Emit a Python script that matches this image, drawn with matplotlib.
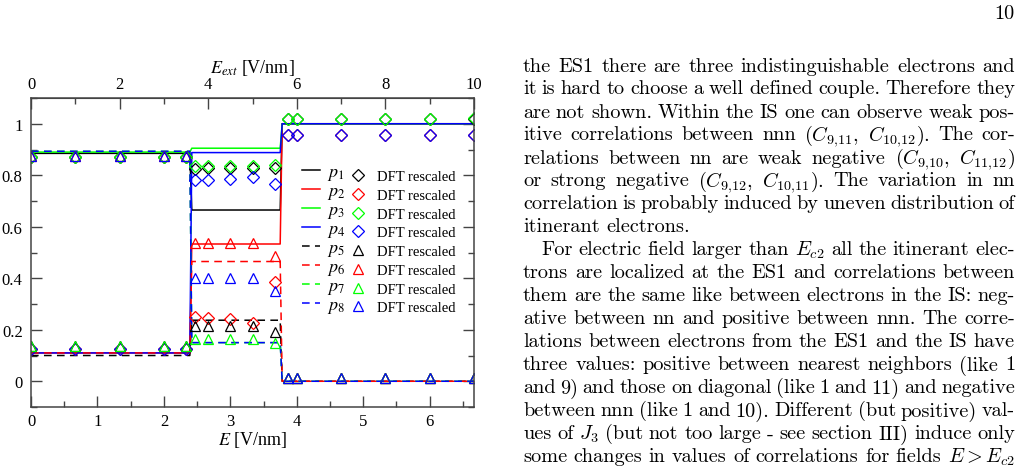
import matplotlib
matplotlib.use('Agg')
import matplotlib.pyplot as plt
from matplotlib.lines import Line2D
from matplotlib.ticker import MultipleLocator, FuncFormatter

W, H = 1023, 477

# ---- model curves (x in E [V/nm]) ----
E_line = [0.0, 2.39, 2.42, 3.75, 3.78, 6.667]
p1 = [0.885, 0.885, 0.665, 0.665, 1.000, 1.000]
p2 = [0.110, 0.110, 0.533, 0.533, 1.000, 1.000]
p3 = [0.890, 0.890, 0.905, 0.905, 1.000, 1.000]
p4 = [0.110, 0.110, 0.888, 0.888, 1.000, 1.000]
p5 = [0.100, 0.100, 0.237, 0.237, 0.000, 0.000]
p6 = [0.110, 0.110, 0.465, 0.465, 0.000, 0.000]
p7 = [0.893, 0.893, 0.150, 0.150, 0.000, 0.000]
p8 = [0.893, 0.893, 0.150, 0.150, 0.000, 0.000]

# ---- DFT rescaled points (x in E_ext [V/nm]) ----
Eext_dft = [0, 1, 2, 3, 3.5, 3.7, 4, 4.5, 5, 5.5, 5.8, 6, 7, 8, 9, 10]
dft1 = [0.870, 0.870, 0.870, 0.870, 0.870, 0.825, 0.830, 0.830, 0.830, 0.830, 1.017, 1.017, 1.017, 1.017, 1.017, 1.020]
dft2 = [0.125, 0.125, 0.125, 0.125, 0.125, 0.250, 0.245, 0.240, 0.228, 0.387, 0.957, 0.957, 0.957, 0.957, 0.957, 0.957]
dft3 = [0.872, 0.872, 0.872, 0.872, 0.872, 0.835, 0.835, 0.835, 0.835, 0.840, 1.017, 1.017, 1.017, 1.017, 1.017, 1.022]
dft4 = [0.125, 0.125, 0.125, 0.125, 0.125, 0.780, 0.783, 0.785, 0.793, 0.767, 0.957, 0.957, 0.957, 0.957, 0.957, 0.957]
dft5 = [0.135, 0.135, 0.135, 0.135, 0.135, 0.215, 0.215, 0.215, 0.213, 0.190, 0.012, 0.012, 0.012, 0.012, 0.012, 0.012]
dft6 = [0.873, 0.873, 0.873, 0.873, 0.873, 0.535, 0.538, 0.538, 0.538, 0.488, 0.012, 0.012, 0.012, 0.012, 0.012, 0.012]
dft7 = [0.135, 0.135, 0.135, 0.135, 0.135, 0.165, 0.165, 0.165, 0.165, 0.150, 0.012, 0.012, 0.012, 0.012, 0.012, 0.012]
dft8 = [0.873, 0.873, 0.873, 0.873, 0.873, 0.400, 0.400, 0.400, 0.400, 0.350, 0.012, 0.012, 0.012, 0.012, 0.012, 0.012]

model = [p1, p2, p3, p4, p5, p6, p7, p8]
dft = [dft1, dft2, dft3, dft4, dft5, dft6, dft7, dft8]
colors = ['black', 'red', '#00ff00', 'blue', 'black', 'red', '#00ff00', 'blue']
labels = ['$p_{%d}$' % i for i in range(1, 9)]
E_ratio = 1.5  # E_ext = 1.5 * E

# ---- page text (right column) ----
page_lines = [
    "the ES1 there are three indistinguishable electrons and",
    "it is hard to choose a well defined couple. Therefore they",
    "are not shown. Within the IS one can observe weak pos-",
    "itive correlations between nnn ($C_{9{,}11}$, $C_{10{,}12}$). The cor-",
    "relations between nn are weak negative ($C_{9{,}10}$, $C_{11{,}12}$)",
    "or strong negative ($C_{9{,}12}$, $C_{10{,}11}$). The variation in nn",
    "correlation is probably induced by uneven distribution of",
    "itinerant electrons.",
    "For electric field larger than $E_{c2}$ all the itinerant elec-",
    "trons are localized at the ES1 and correlations between",
    "them are the same like between electrons in the IS: neg-",
    "ative between nn and positive between nnn. The corre-",
    "lations between electrons from the ES1 and the IS have",
    "three values: positive between nearest neighbors (like 1",
    "and 9) and those on diagonal (like 1 and 11) and negative",
    "between nnn (like 1 and 10). Different (but positive) val-",
    "ues of $J_3$ (but not too large - see section III) induce only",
    "some changes in values of correlations for fields $E > E_{c2}$",
]
last_of_par = [7]
first_of_par = [8]


def split_words(line):
    # split on spaces that are not inside $...$
    words, cur, in_math = [], '', False
    for ch in line:
        if ch == '$':
            in_math = not in_math
        if ch == ' ' and not in_math:
            words.append(cur)
            cur = ''
        else:
            cur += ch
    words.append(cur)
    return words


fig = plt.figure(figsize=(W / 100, H / 100), dpi=100)
ax = fig.add_axes([31 / W, (H - 408) / H, (474 - 31) / W, (408 - 99) / H])

tickfont = 'Liberation Serif'
dash = (0, (5, 3.5))
for i, (y, c) in enumerate(zip(model, colors)):
    ax.plot(E_line, y, color=c, lw=1.1, ls='-' if i < 4 else dash)

E_dft = [e / E_ratio for e in Eext_dft]
for i, (y, c) in enumerate(zip(dft, colors)):
    m = 'D' if i < 4 else '^'
    ms = 6 if i < 4 else 7
    ax.plot(E_dft, y, ls='none', marker=m, ms=ms, mfc='none', mec=c, mew=0.9)

ax.set_xlim(0, 10 / E_ratio)
ax.set_ylim(-0.1, 1.1)
ax.xaxis.set_major_locator(MultipleLocator(1))
ax.xaxis.set_minor_locator(MultipleLocator(0.5))
ax.yaxis.set_major_locator(MultipleLocator(0.2))
ax.yaxis.set_minor_locator(MultipleLocator(0.1))
ax.yaxis.set_major_formatter(FuncFormatter(lambda v, _: '%g' % round(v, 3)))
ax.tick_params(which='both', direction='in', top=False, right=True,
               color='#444444', width=1)
ax.tick_params(which='major', length=8, labelsize=12)
ax.tick_params(axis='y', which='major', pad=6)
ax.tick_params(axis='x', which='major', pad=4)
ax.tick_params(which='minor', length=4)
for lab in ax.get_xticklabels() + ax.get_yticklabels():
    lab.set_family(tickfont)
for s in ax.spines.values():
    s.set_color('#444444')
    s.set_linewidth(1.1)

sec = ax.secondary_xaxis('top', functions=(lambda e: e * E_ratio, lambda x: x / E_ratio))
sec.xaxis.set_major_locator(MultipleLocator(2))
sec.xaxis.set_minor_locator(MultipleLocator(1))
sec.tick_params(which='both', direction='in', color='#444444', width=1)
sec.tick_params(which='major', length=8, labelsize=12, pad=4)
sec.tick_params(which='minor', length=4)
for lab in sec.get_xticklabels():
    lab.set_family(tickfont)
sec.spines['top'].set_color('#444444')

ax.set_xlabel('$E$ [V/nm]', fontsize=13, family=tickfont, math_fontfamily='stix', labelpad=0)
sec.set_xlabel('$E_{ext}$ [V/nm]', fontsize=13, family=tickfont, math_fontfamily='stix', labelpad=3)

# legends: model lines and DFT markers side by side
line_handles = [Line2D([], [], color=c, lw=1.1, ls='-' if i < 4 else dash)
                for i, c in enumerate(colors)]
mark_handles = [Line2D([], [], ls='none', marker='D' if i < 4 else '^', ms=6 if i < 4 else 7,
                       mfc='none', mec=c, mew=0.9) for i, c in enumerate(colors)]
leg1 = ax.legend(line_handles, labels, loc='upper left', frameon=False,
                 bbox_to_anchor=(302 / W, 1 - 164 / H), bbox_transform=fig.transFigure,
                 borderpad=0, borderaxespad=0, handlelength=1.0, handletextpad=0.4,
                 labelspacing=0.0, prop={'family': tickfont, 'size': 13})
for t in leg1.get_texts():
    t.set_math_fontfamily('stix')
ax.add_artist(leg1)
ax.legend(mark_handles, ['DFT rescaled'] * 8, loc='upper left', frameon=False,
          bbox_to_anchor=(349 / W, 1 - 171 / H), bbox_transform=fig.transFigure,
          borderpad=0, borderaxespad=0, handlelength=1.3, handletextpad=0.6,
          labelspacing=0.38, prop={'family': tickfont, 'size': 10.5})

# ---- page column text, justified ----
renderer = fig.canvas.get_renderer()
x_left, x_right = 523, 1015
text_size = 14.6
for k, line in enumerate(page_lines):
    y_base = 71.5 + 23 * k
    x0 = x_left + (18 if k in first_of_par else 0)
    words = split_words(line)
    objs = [fig.text(0, 0, w, fontsize=text_size, family='cmr10', math_fontfamily='cm',
                     va='baseline', ha='left') for w in words]
    widths = [o.get_window_extent(renderer).width for o in objs]
    if k in last_of_par or len(words) == 1:
        gap = 6.5
    else:
        gap = (x_right - x0 - sum(widths)) / (len(words) - 1)
    x = x0
    for o, w in zip(objs, widths):
        o.set_position((x / W, 1 - y_base / H))
        x += w + gap

fig.text(x_right / W, 1 - 19 / H, '10', fontsize=text_size, family='cmr10',
         va='baseline', ha='right')

fig.savefig('out.png', dpi=100)
